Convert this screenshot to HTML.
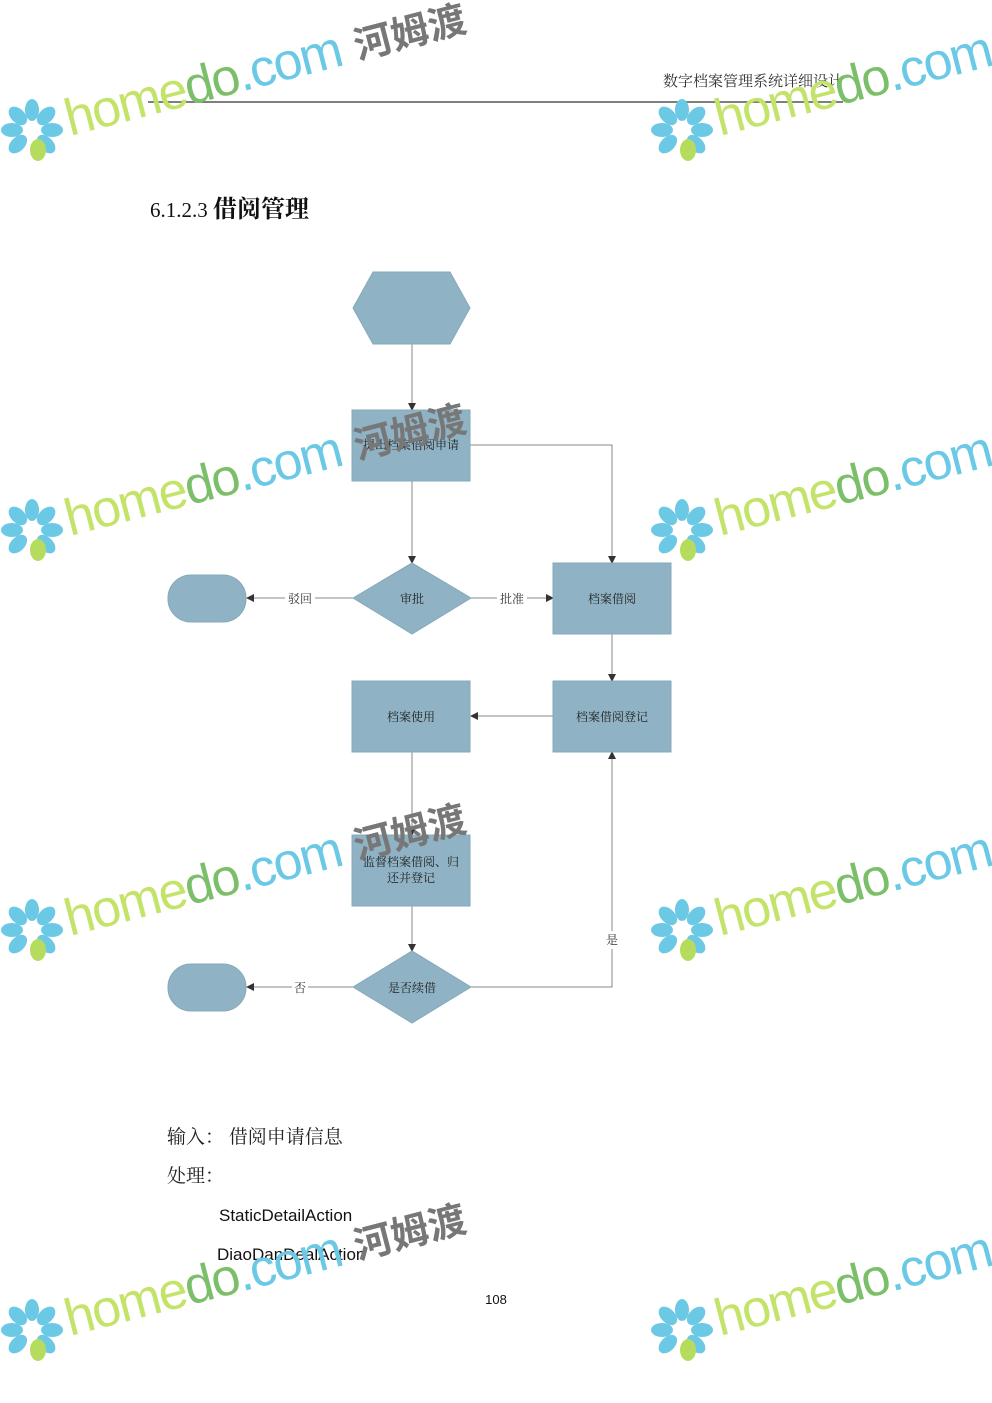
<!DOCTYPE html>
<html><head><meta charset="utf-8"><style>
body{margin:0;background:#fff}
svg{display:block}
text{font-family:"Liberation Serif","Noto Serif CJK SC",serif}
.wm{font-family:"Liberation Sans","Noto Sans CJK SC",sans-serif}
</style></head><body>
<svg width="992" height="1403" viewBox="0 0 992 1403" xmlns="http://www.w3.org/2000/svg">
<defs>
<marker id="a" markerWidth="8" markerHeight="8" refX="7" refY="4" orient="auto" markerUnits="userSpaceOnUse"><path d="M0,0 L8,4 L0,8z" fill="#333"/></marker>
<g id="wm">
 <g transform="translate(32,130)">
  <g fill="#6cc9e6">
   <ellipse cx="0" cy="-20" rx="7" ry="11"/><ellipse cx="0" cy="-20" rx="7" ry="11" transform="rotate(45)"/>
   <ellipse cx="0" cy="-20" rx="7" ry="11" transform="rotate(90)"/><ellipse cx="0" cy="-20" rx="7" ry="11" transform="rotate(135)"/>
   <ellipse cx="0" cy="-20" rx="7" ry="11" transform="rotate(-45)"/><ellipse cx="0" cy="-20" rx="7" ry="11" transform="rotate(-90)"/>
   <ellipse cx="0" cy="-20" rx="7" ry="11" transform="rotate(-135)"/>
  </g>
  <ellipse cx="6" cy="20" rx="8" ry="11" fill="#b5dc5c"/>
 </g>
 <g transform="translate(70,136) rotate(-14.5)">
  <text class="wm" x="0" y="0" font-size="52" textLength="285" fill="#c4e36a">home<tspan fill="#7cbf6a">do</tspan><tspan fill="#6cc9e6">.com</tspan></text>
  <text class="wm" x="298" y="-2" font-size="38" font-weight="bold" fill="#777">河姆渡</text>
 </g>
</g>
</defs>

<text x="663" y="86" font-size="15" fill="#333">数字档案管理系统详细设计</text>
<line x1="148" y1="102" x2="843" y2="102" stroke="#555" stroke-width="1.5"/>
<text x="150" y="217" font-size="21" fill="#111">6.1.2.3 <tspan font-weight="bold" font-size="24">借阅管理</tspan></text>

<g stroke="#888" stroke-width="1" fill="none">
 <line x1="412" y1="344" x2="412" y2="410" marker-end="url(#a)"/>
 <line x1="412" y1="481" x2="412" y2="563" marker-end="url(#a)"/>
 <polyline points="470,445 612,445 612,563" marker-end="url(#a)"/>
 <line x1="353" y1="598" x2="247" y2="598" marker-end="url(#a)"/>
 <line x1="471" y1="598" x2="553" y2="598" marker-end="url(#a)"/>
 <line x1="612" y1="634" x2="612" y2="681" marker-end="url(#a)"/>
 <line x1="553" y1="716" x2="471" y2="716" marker-end="url(#a)"/>
 <line x1="412" y1="752" x2="412" y2="835" marker-end="url(#a)"/>
 <line x1="412" y1="906" x2="412" y2="951" marker-end="url(#a)"/>
 <line x1="353" y1="987" x2="247" y2="987" marker-end="url(#a)"/>
 <polyline points="471,987 612,987 612,752" marker-end="url(#a)"/>
</g>
<g fill="#fff"><rect x="285" y="590" width="30" height="16"/><rect x="497" y="590" width="30" height="16"/><rect x="292" y="979" width="16" height="16"/><rect x="604" y="931" width="16" height="18"/></g>
<g font-size="12" fill="#333" text-anchor="middle">
 <text x="300" y="603">驳回</text><text x="512" y="603">批准</text><text x="300" y="992">否</text><text x="612" y="944">是</text>
</g>

<g fill="#8fb3c4" stroke="#86a9ba">
 <polygon points="353,308 373,272 450,272 470,308 450,344 373,344"/>
 <rect x="352" y="410" width="118" height="71"/>
 <polygon points="353,598 412,563 471,598 412,634"/>
 <rect x="553" y="563" width="118" height="71"/>
 <rect x="168" y="575" width="78" height="47" rx="23"/>
 <rect x="352" y="681" width="118" height="71"/>
 <rect x="553" y="681" width="118" height="71"/>
 <rect x="352" y="835" width="118" height="71"/>
 <polygon points="353,987 412,951 471,987 412,1023"/>
 <rect x="168" y="964" width="78" height="47" rx="23"/>
</g>
<g font-size="12" fill="#222" text-anchor="middle">
 <text x="411" y="449">提出档案借阅申请</text>
 <text x="412" y="603">审批</text>
 <text x="612" y="603">档案借阅</text>
 <text x="411" y="721">档案使用</text>
 <text x="612" y="721">档案借阅登记</text>
 <text x="411" y="866">监督档案借阅、归</text>
 <text x="411" y="882">还并登记</text>
 <text x="412" y="992">是否续借</text>
</g>

<g font-size="19" fill="#222">
 <text x="167" y="1143">输入：  借阅申请信息</text>
 <text x="167" y="1182">处理：</text>
</g>
<g fill="#111">
 <text x="219" y="1221" font-size="17" style="font-family:'Liberation Sans',sans-serif">StaticDetailAction</text>
 <text x="217" y="1260" font-size="17" style="font-family:'Liberation Sans',sans-serif">DiaoDanDealAction</text>
 <text x="496" y="1304" font-size="13" text-anchor="middle" style="font-family:'Liberation Sans',sans-serif">108</text>
</g>

<use href="#wm"/>
<use href="#wm" x="650" y="0"/>
<use href="#wm" x="0" y="400"/>
<use href="#wm" x="650" y="400"/>
<use href="#wm" x="0" y="800"/>
<use href="#wm" x="650" y="800"/>
<use href="#wm" x="0" y="1200"/>
<use href="#wm" x="650" y="1200"/>
</svg>
</body></html>
